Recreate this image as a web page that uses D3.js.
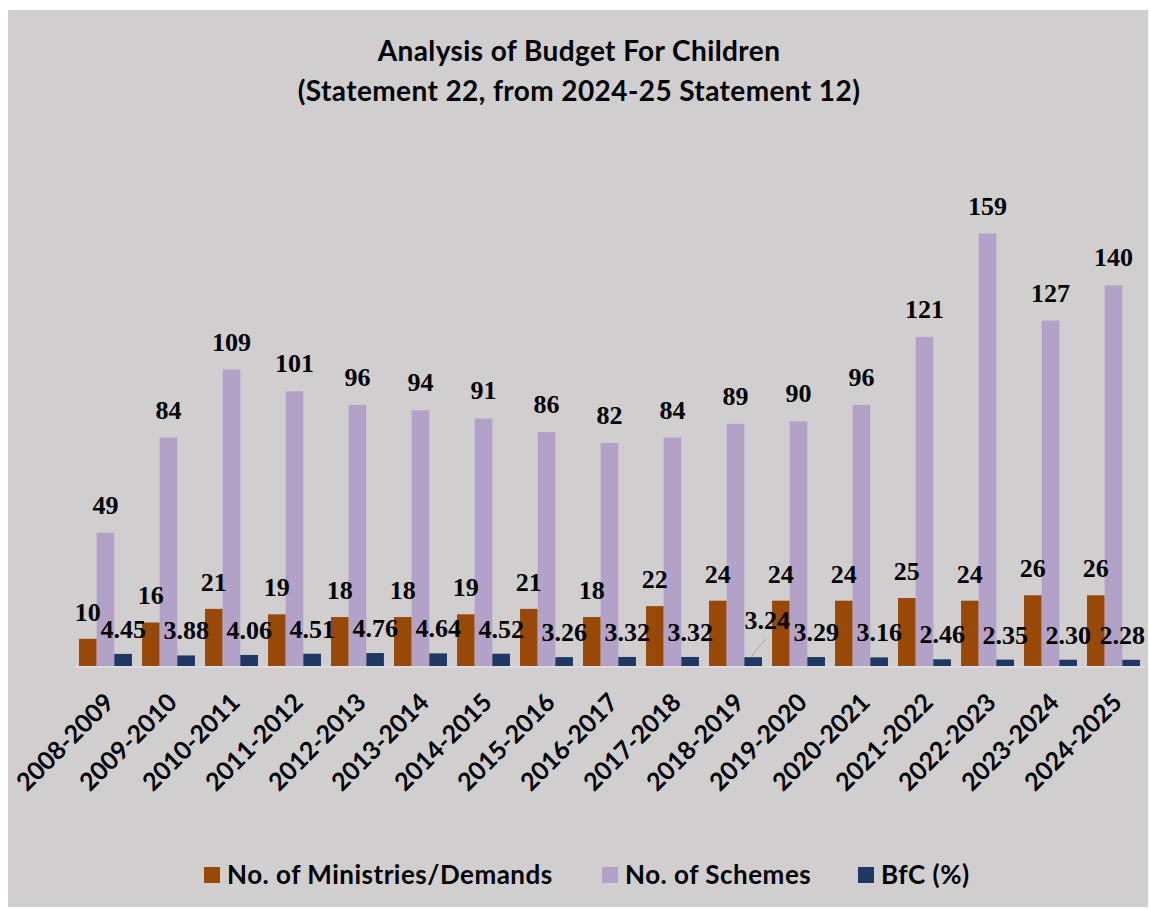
<!DOCTYPE html>
<html>
<head>
<meta charset="utf-8">
<script src="https://cdn.jsdelivr.net/npm/d3@7"></script>
<style>
  body { margin: 0; background: #fff; }
  text { fill: #000; }
</style>
</head>
<body>
<script>
// chart data
var years = ["2008-2009","2009-2010","2010-2011","2011-2012","2012-2013","2013-2014","2014-2015",
  "2015-2016","2016-2017","2017-2018","2018-2019","2019-2020","2020-2021","2021-2022",
  "2022-2023","2023-2024","2024-2025"];
var ministries = [10,16,21,19,18,18,19,21,18,22,24,24,24,25,24,26,26];
var schemes = [49,84,109,101,96,94,91,86,82,84,89,90,96,121,159,127,140];
var bfc = [4.45,3.88,4.06,4.51,4.76,4.64,4.52,3.26,3.32,3.32,3.24,3.29,3.16,2.46,2.35,2.30,2.28];
var seriesNames = ["No. of Ministries/Demands","No. of Schemes","BfC (%)"];
var colors = ["#984807","#B3A2C7","#203864"];

var W = 1150, H = 909;
var svg = d3.select("body").append("svg").attr("width", W).attr("height", H);

// chart area background
svg.append("rect").attr("x", 8).attr("y", 10).attr("width", 1140).attr("height", 897)
  .attr("fill", "#D0CECF");

// title
var title = svg.append("text").attr("text-anchor", "middle")
  .style("font-family", "Lato, 'Open Sans', sans-serif").style("font-weight", "bold")
  .style("font-size", "28px").style("letter-spacing", "0.4px");
title.append("tspan").attr("x", 579).attr("y", 61).text("Analysis of Budget For Children");
title.append("tspan").attr("x", 579).attr("y", 101).text("(Statement 22, from 2024-25 Statement 12)");

var baseY = 666;
var rightEdge = 1145;
var x = d3.scaleBand().domain(years).range([74, rightEdge]).paddingInner(0.16).paddingOuter(0.08);
var xs = d3.scaleBand().domain([0,1,2]).range([0, x.bandwidth()]);
var y = d3.scaleLinear().domain([0, 180]).range([baseY, baseY - 180 * 2.72]);

var series = [ministries, schemes, bfc];

// axis line
svg.append("line").attr("x1", 74).attr("x2", rightEdge).attr("y1", baseY + 1).attr("y2", baseY + 1)
  .attr("stroke", "#DCDCDC").attr("stroke-width", 2);

// bars
series.forEach(function(vals, s) {
  svg.append("g").selectAll("rect").data(vals).enter().append("rect")
    .attr("x", function(d, i) { return x(years[i]) + xs(s); })
    .attr("width", xs.bandwidth())
    .attr("y", function(d) { return y(d); })
    .attr("height", function(d) { return baseY - y(d); })
    .attr("fill", colors[s]);
});

// data labels
var labelGap = [18, 19, 16];
var callout = "2018-2019"; // BfC label moved up with a leader line
series.forEach(function(vals, s) {
  svg.append("g").selectAll("text").data(vals).enter().append("text")
    .attr("x", function(d, i) {
      var cx = x(years[i]) + xs(s) + xs.bandwidth() / 2;
      if (s == 2 && years[i] == callout) cx += 14;
      return cx;
    })
    .attr("y", function(d, i) {
      var ty = y(d) - labelGap[s];
      if (s == 2 && years[i] == callout) ty -= 12;
      return ty;
    })
    .attr("text-anchor", "middle")
    .style("font-family", "'Liberation Serif', 'Times New Roman', serif")
    .style("font-weight", "bold").style("font-size", "26px")
    .text(function(d) { return s == 2 ? d.toFixed(2) : d; })
    .each(function() {
      // keep labels inside the plot on the right
      var t = d3.select(this);
      var half = this.getComputedTextLength() / 2;
      var cx = +t.attr("x");
      if (cx + half > rightEdge) t.attr("x", rightEdge - half);
    });
});

// leader line for the moved label
var ci = years.indexOf(callout);
var cx0 = x(callout) + xs(2) + xs.bandwidth() / 2;
svg.append("line")
  .attr("x1", cx0 - 2).attr("y1", y(bfc[ci]))
  .attr("x2", cx0 + 13).attr("y2", y(bfc[ci]) - 19)
  .attr("stroke", "#A6A6A6").attr("stroke-width", 1);

// x axis labels
svg.append("g").selectAll("text").data(years).enter().append("text")
  .attr("transform", function(d) {
    return "translate(" + (x(d) + x.bandwidth() / 2 + 10) + "," + (baseY + 38) + ") rotate(-45)";
  })
  .attr("text-anchor", "end")
  .style("font-family", "Lato, 'Open Sans', sans-serif").style("font-weight", "bold")
  .style("font-size", "25px")
  .text(function(d) { return d; });

// legend
var legendX = [204, 602, 858];
var lg = svg.append("g");
seriesNames.forEach(function(name, s) {
  lg.append("rect").attr("x", legendX[s]).attr("y", 867).attr("width", 16).attr("height", 16)
    .attr("fill", colors[s]);
  lg.append("text").attr("x", legendX[s] + 23).attr("y", 884)
    .style("font-family", "Lato, 'Open Sans', sans-serif").style("font-weight", "bold")
    .style("font-size", "26px").style("letter-spacing", "0.5px").text(name);
});
</script>
</body>
</html>
